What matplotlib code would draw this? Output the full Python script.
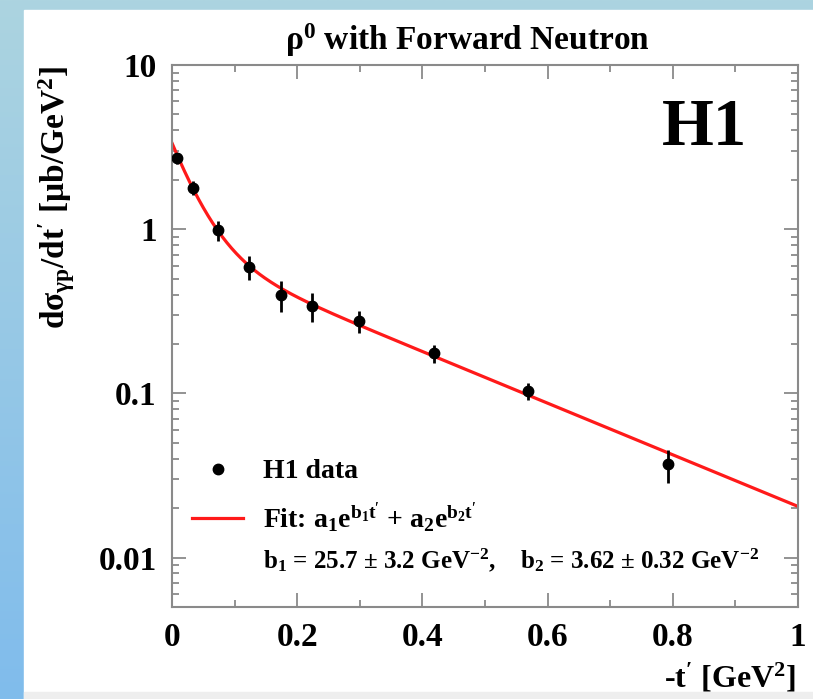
import numpy as np
import matplotlib.pyplot as plt
from matplotlib.lines import Line2D
from matplotlib.patches import Rectangle
from matplotlib.ticker import MultipleLocator, LogLocator, NullFormatter, FixedLocator, FixedFormatter

plt.rcParams['font.family'] = ['Liberation Serif', 'DejaVu Serif']
plt.rcParams['font.weight'] = 'bold'
plt.rcParams['mathtext.fontset'] = 'custom'
plt.rcParams['mathtext.rm'] = 'Liberation Serif:bold'
plt.rcParams['mathtext.it'] = 'Liberation Serif:bold'
plt.rcParams['mathtext.bf'] = 'Liberation Serif:bold'
plt.rcParams['mathtext.default'] = 'rm'

# H1 data: -t' [GeV^2], dsigma/dt' [mub/GeV^2]
t_data = [0.0075, 0.033, 0.073, 0.1235, 0.174, 0.224, 0.299, 0.4185, 0.569, 0.792]
xs_data = [2.70, 1.79, 0.986, 0.589, 0.400, 0.340, 0.276, 0.175, 0.103, 0.037]
xs_err = [0.22, 0.18, 0.14, 0.10, 0.085, 0.068, 0.042, 0.021, 0.012, 0.0085]

# fit parameters
a1, b1 = 2.58, 25.7
a2, b2 = 0.765, 3.62

x_ticks = [0, 0.2, 0.4, 0.6, 0.8, 1]
x_ticklabels = ['0', '0.2', '0.4', '0.6', '0.8', '1']
y_ticks = [0.01, 0.1, 1, 10]
y_ticklabels = ['0.01', '0.1', '1', '10']

W, H = 813, 699
fig = plt.figure(figsize=(W / 100, H / 100), dpi=100)

# background gradient frame
bg = fig.add_axes([0, 0, 1, 1], zorder=-10)
grad = np.linspace(0, 1, 256).reshape(-1, 1)
top_c = np.array([172, 212, 224]) / 255
bot_c = np.array([128, 188, 236]) / 255
img = top_c + (bot_c - top_c) * grad[..., None]
img = np.repeat(img, 2, axis=1)
bg.imshow(img, extent=[0, 1, 0, 1], aspect='auto', origin='upper')
bg.add_patch(Rectangle((24 / W, 0), 1, 1 - 10 / H, color='white', transform=bg.transAxes))
bg.add_patch(Rectangle((24 / W, 0), 1, 7 / H, color='#eeeeee', transform=bg.transAxes))
bg.set_xlim(0, 1)
bg.set_ylim(0, 1)
bg.axis('off')

ax = fig.add_axes([172 / W, 1 - 607 / H, 626 / W, (607 - 65) / H])

tt = np.linspace(0, 1, 400)
fit = a1 * np.exp(-b1 * tt) + a2 * np.exp(-b2 * tt)
ax.plot(tt, fit, color='#ff1a1a', lw=2.3, zorder=2)
ax.errorbar(t_data, xs_data, yerr=xs_err, fmt='o', color='black', ms=7.5,
            elinewidth=2, capsize=0, zorder=3)

ax.set_yscale('log')
ax.set_xlim(0, 1)
ax.set_ylim(0.005, 10)

ax.xaxis.set_major_locator(FixedLocator(x_ticks))
ax.xaxis.set_major_formatter(FixedFormatter(x_ticklabels))
ax.xaxis.set_minor_locator(MultipleLocator(0.1))
ax.yaxis.set_major_locator(FixedLocator(y_ticks))
ax.yaxis.set_major_formatter(FixedFormatter(y_ticklabels))
ax.yaxis.set_minor_locator(LogLocator(base=10, subs=np.arange(2, 10)))
ax.yaxis.set_minor_formatter(NullFormatter())

for s in ax.spines.values():
    s.set_color('#8a8a8a')
    s.set_linewidth(1.5)
ax.tick_params(which='both', direction='in', top=True, right=True, colors='#8a8a8a', width=1.3)
ax.tick_params(which='major', length=10)
ax.tick_params(which='minor', length=5)
ax.tick_params(axis='x', which='major', pad=11, labelsize=24, labelcolor='black')
ax.tick_params(axis='y', which='major', pad=11, labelsize=24, labelcolor='black')

fig.text(467 / W, 1 - 50 / H, r'$\rho^{0}$ with Forward Neutron', ha='center', va='baseline',
         fontsize=24, fontweight='bold')
fig.text(57 / W, 1 - 198 / H, r'd$\sigma_{\gamma p}$/dt$^{\prime}$ [$\mu$b/GeV$^{2}$]',
         rotation=90, ha='center', va='center', fontsize=24, fontweight='bold')
fig.text(796 / W, 1 - 688 / H, r'-t$^{\prime}$ [GeV$^{2}$]', ha='right', va='baseline',
         fontsize=23, fontweight='bold')
fig.text(747 / W, 1 - 145 / H, 'H1', ha='right', va='baseline', fontsize=48, fontweight='bold')

handles = [Line2D([], [], marker='o', ls='none', color='black', ms=7.5),
           Line2D([], [], color='#ff1a1a', lw=2.3)]
labels = ['H1 data', r'Fit: a$_{1}$e$^{b_{1}t^{\prime}}$ + a$_{2}$e$^{b_{2}t^{\prime}}$']
leg = fig.legend(handles, labels, loc='upper left', bbox_to_anchor=(192 / W, 1 - 459 / H),
                 frameon=False, fontsize=20, handlelength=1.85, handletextpad=0.72,
                 labelspacing=0.58, borderpad=0, borderaxespad=0)
fig.text(263 / W, 1 - 568 / H,
         r'b$_{1}$ = 25.7 $\pm$ 3.2 GeV$^{-2}$,    b$_{2}$ = 3.62 $\pm$ 0.32 GeV$^{-2}$',
         ha='left', va='baseline', fontsize=18, fontweight='bold')

fig.savefig('out.png', dpi=100)
